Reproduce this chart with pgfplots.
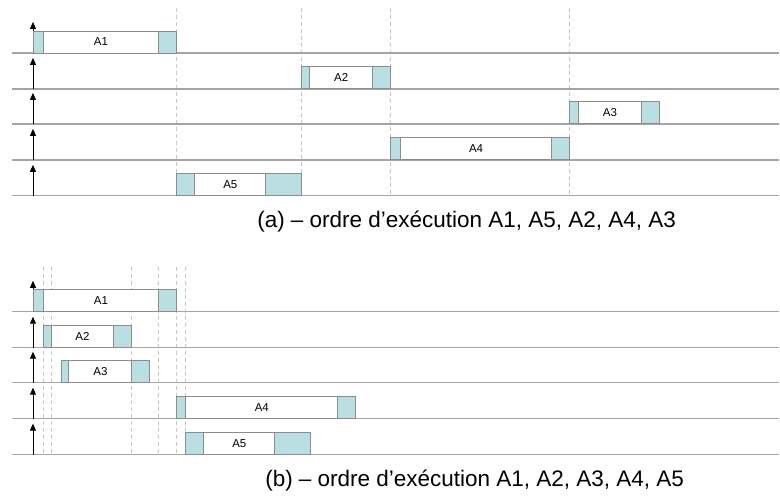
\documentclass[border=0pt]{standalone}
\usepackage{fontspec}
\setmainfont{Liberation Sans}
\usepackage{pgfplots}
\pgfplotsset{compat=1.18}
\usetikzlibrary{arrows.meta}

\definecolor{slot}{RGB}{185,223,227}
\definecolor{boxline}{RGB}{140,140,140}
\definecolor{rowline}{RGB}{165,165,165}
\definecolor{guide}{RGB}{200,200,200}

% task box: start, end of first slot, start of last slot, end, baseline, top, label
\newcommand{\task}[7]{%
  \addplot[fill=slot, draw=boxline, line width=0.9pt] coordinates {(#1,#5) (#2,#5) (#2,#6) (#1,#6)} -- cycle;
  \addplot[fill=white, draw=boxline, line width=0.9pt] coordinates {(#2,#5) (#3,#5) (#3,#6) (#2,#6)} -- cycle;
  \addplot[fill=slot, draw=boxline, line width=0.9pt] coordinates {(#3,#5) (#4,#5) (#4,#6) (#3,#6)} -- cycle;
  \node[font=\fontsize{11.5}{12}\selectfont] at (axis cs:{(#2+#3)/2},{(#5+#6)/2}) {#7};
}
\newcommand{\row}[2]{%
  \addplot[rowline, line width=1.3pt] coordinates {(12,#1) (780,#1)};
  \addplot[black, line width=0.9pt, -{Triangle[length=7pt,width=6pt]}] coordinates {(33,#1) (33,#2)};
}
\newcommand{\guide}[3]{%
  \addplot[guide, line width=0.8pt, dash pattern=on 4pt off 3pt] coordinates {(#1,#2) (#1,#3)};
}

\begin{document}
\begin{tikzpicture}
\begin{axis}[
  width=780pt, height=498pt, scale only axis,
  xmin=0, xmax=780, ymin=0, ymax=498,
  y dir=reverse,
  axis lines=none,
  clip=false,
]
\addplot[draw=none] coordinates {(0,0) (780,498)};

% (a) guides
\guide{177}{8}{196}
\guide{302}{8}{196}
\guide{391}{8}{196}
\guide{570}{8}{196}
% (b) guides
\guide{43}{267}{455}
\guide{51}{267}{455}
\guide{132}{267}{455}
\guide{159}{267}{455}
\guide{177}{267}{455}
\guide{186}{267}{455}

% (a) rows
\row{53}{22}
\row{89}{58}
\row{124}{93}
\row{160}{129}
\row{196}{165}
% (b) rows
\row{312}{281}
\row{348}{317}
\row{383}{352}
\row{419}{388}
\row{455}{424}

% (a) order A1, A5, A2, A4, A3
\task{33}{43}{159}{177}{53}{31}{A1}
\task{302}{310}{373}{391}{89}{67}{A2}
\task{570}{579}{642}{660}{124}{102}{A3}
\task{391}{401}{552}{570}{160}{138}{A4}
\task{177}{195}{266}{302}{196}{174}{A5}

% (b) order A1, A2, A3, A4, A5
\task{33}{43}{159}{177}{312}{290}{A1}
\task{43}{51}{114}{132}{348}{326}{A2}
\task{61}{69}{132}{150}{383}{361}{A3}
\task{177}{186}{338}{356}{419}{397}{A4}
\task{186}{204}{275}{311}{455}{433}{A5}

\node[font=\fontsize{22.5}{24}\selectfont] at (axis cs:467,222) {(a) – ordre d’exécution A1, A5, A2, A4, A3};
\node[font=\fontsize{22.5}{24}\selectfont] at (axis cs:475,481) {(b) – ordre d’exécution A1, A2, A3, A4, A5};
\end{axis}
\end{tikzpicture}
\end{document}
